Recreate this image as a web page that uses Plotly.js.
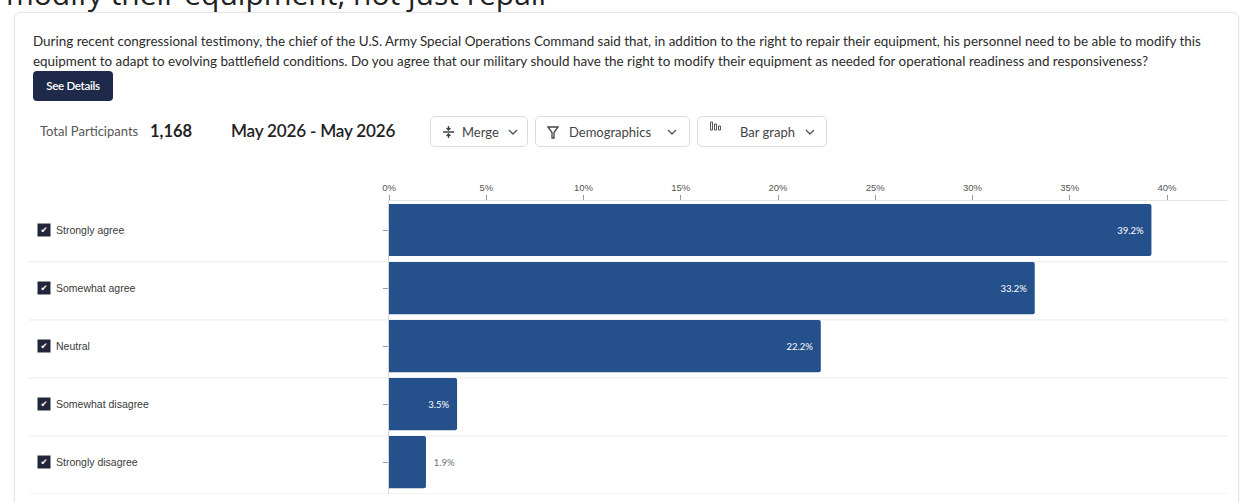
<!DOCTYPE html>
<html>
<head>
<meta charset="utf-8">
<script src="https://cdn.plot.ly/plotly-3.0.1.min.js"></script>
<style>
  html, body { margin:0; padding:0; width:1240px; height:502px; overflow:hidden; background:#fff; font-family: Lato, "Open Sans", sans-serif; }
  .abs { position:absolute; }
  #bigtitle { left:6px; top:-21px; font-size:30px; line-height:30px; color:#222; font-family:"Open Sans", Lato, sans-serif; white-space:nowrap; }
  #card { left:14px; top:12px; width:1223px; height:520px; border:1px solid #e6e6e6; border-radius:7px; box-shadow:0 0 3px rgba(0,0,0,0.06); }
  #question { left:33px; top:31px; font-size:13.45px; line-height:20px; color:#2b2b2b; white-space:nowrap; }
  #details { left:33px; top:71px; width:80px; height:30px; background:#1f2a4a; border-radius:4px; color:#fff; font-size:11.5px; font-weight:600; text-align:center; line-height:30px; letter-spacing:-0.3px; }
  #tp { left:40px; top:123px; font-size:13px; color:#555; }
  #tpn { left:150px; top:121px; font-size:16.5px; font-weight:700; color:#222; }
  #dates { left:231px; top:120px; font-size:17.1px; font-weight:600; color:#222; letter-spacing:-0.2px; }
  .btn { top:116px; height:31px; border:1px solid #dcdcdc; border-radius:5px; box-sizing:border-box; font-size:13px; color:#444; }
  .btn span { position:absolute; top:7px; }
  .btn svg { position:absolute; }
  #chart { left:0; top:0; width:1240px; height:502px; }
</style>
</head>
<body>
<div id="chart" class="abs"></div>
<div id="card" class="abs" style="pointer-events:none"></div>
<div id="bigtitle" class="abs">modify their equipment, not just repair</div>
<div id="question" class="abs">During recent congressional testimony, the chief of the U.S. Army Special Operations Command said that, in addition to the right to repair their equipment, his personnel need to be able to modify this<br>equipment to adapt to evolving battlefield conditions. Do you agree that our military should have the right to modify their equipment as needed for operational readiness and responsiveness?</div>
<div id="details" class="abs">See Details</div>
<div id="tp" class="abs">Total Participants</div>
<div id="tpn" class="abs">1,168</div>
<div id="dates" class="abs">May 2026 - May 2026</div>

<div class="abs btn" style="left:430px; width:98px;">
  <svg style="left:11px; top:8px" width="13" height="14" viewBox="0 0 13 14"><path d="M6.5 1 V5 M6.5 9 V13 M1 7 H12 M4.5 3 L6.5 5 L8.5 3 M4.5 11 L6.5 9 L8.5 11" stroke="#444" stroke-width="1.3" fill="none"/></svg>
  <span style="left:31px">Merge</span>
  <svg style="left:77px; top:12px" width="10" height="7" viewBox="0 0 10 7"><path d="M1 1 L5 5 L9 1" stroke="#555" stroke-width="1.3" fill="none"/></svg>
</div>
<div class="abs btn" style="left:535px; width:155px;">
  <svg style="left:11px; top:9px" width="12" height="13" viewBox="0 0 12 13"><path d="M1 1 H11 L7 6.5 V12 H5 V6.5 Z" stroke="#444" stroke-width="1.3" fill="none"/></svg>
  <span style="left:33px">Demographics</span>
  <svg style="left:131px; top:12px" width="10" height="7" viewBox="0 0 10 7"><path d="M1 1 L5 5 L9 1" stroke="#555" stroke-width="1.3" fill="none"/></svg>
</div>
<div class="abs btn" style="left:697px; width:130px;">
  <svg style="left:11px; top:4px" width="13" height="10" viewBox="0 0 13 10"><path d="M1.5 1 V9 H3.5 V1 Z M5.5 3 V9 H7.5 V3 Z M9.5 5 V9 H11.5 V5 Z" stroke="#444" stroke-width="0.9" fill="none"/></svg>
  <span style="left:42px">Bar graph</span>
  <svg style="left:107px; top:12px" width="10" height="7" viewBox="0 0 10 7"><path d="M1 1 L5 5 L9 1" stroke="#555" stroke-width="1.3" fill="none"/></svg>
</div>

<script>
// ---- data ----
const categories = ["Strongly agree", "Somewhat agree", "Neutral", "Somewhat disagree", "Strongly disagree"];
const percentages = [39.2, 33.2, 22.2, 3.5, 1.9];
const valueLabels = ["39.2%", "33.2%", "22.2%", "3.5%", "1.9%"];
const tickValues = [0, 5, 10, 15, 20, 25, 30, 35, 40];
const tickLabels = ["0%", "5%", "10%", "15%", "20%", "25%", "30%", "35%", "40%"];

// ---- layout geometry (pixels) ----
const W = 1240, H = 502;
const M = { l: 389, r: 12, t: 201, b: 8 };
const plotW = W - M.l - M.r;
const pxToPaper = px => (px - M.l) / plotW;
const xMax = 40 * plotW / (1167 - M.l);

const n = categories.length;
const sepOffset = 0.05;
const textPos = percentages.map(v => v < 3 ? "outside" : "inside");
const NB = "\u00a0";
const padded = valueLabels.map((t, i) => textPos[i] === "inside" ? t + NB + NB : NB + NB + t);

const trace = {
  type: "bar",
  orientation: "h",
  y: categories,
  x: percentages,
  text: padded,
  textposition: textPos,
  insidetextanchor: "end",
  textangle: 0,
  cliponaxis: false,
  insidetextfont: { family: "Lato, sans-serif", size: 9.5, color: "#ffffff" },
  outsidetextfont: { family: "Lato, sans-serif", size: 9.5, color: "#6b7280" },
  marker: { color: "#24518c", cornerradius: 2, line: { width: 0 } },
  hoverinfo: "none"
};

const shapes = [];
for (let i = 1; i <= n; i++) {
  shapes.push({
    type: "line", xref: "paper", yref: "y",
    x0: pxToPaper(29), x1: 1, y0: i - 0.5 + sepOffset, y1: i - 0.5 + sepOffset,
    line: { color: "#e9e9e9", width: 1 }, layer: "below"
  });
}

const annotations = [];
categories.forEach((c, i) => {
  annotations.push({
    xref: "paper", yref: "y", x: pxToPaper(44), y: c,
    text: "✔", showarrow: false, xanchor: "center", yanchor: "middle",
    font: { family: "DejaVu Sans", size: 8.5, color: "#ffffff" },
    bgcolor: "#22263a", width: 11, height: 11, borderpad: 0.5
  });
  annotations.push({
    xref: "paper", yref: "y", x: pxToPaper(54), y: c,
    text: c, showarrow: false, xanchor: "left", yanchor: "middle",
    font: { family: "Liberation Sans, Arial, sans-serif", size: 10.5, color: "#3a3a3a" }
  });
});

const layout = {
  width: W, height: H,
  margin: M,
  paper_bgcolor: "rgba(0,0,0,0)",
  plot_bgcolor: "rgba(0,0,0,0)",
  showlegend: false,
  bargap: 0.1,
  xaxis: {
    side: "top", range: [0, xMax], autorange: false, fixedrange: true,
    tickvals: tickValues, ticktext: tickLabels,
    ticks: "outside", ticklen: 5, tickcolor: "#9a9a9a", tickwidth: 1,
    tickfont: { family: "Liberation Sans, Arial, sans-serif", size: 9.5, color: "#555" },
    showgrid: false, zeroline: false,
    showline: true, linecolor: "#e6e6e6", linewidth: 1
  },
  yaxis: {
    type: "category", autorange: false, range: [n - 0.5 + sepOffset, -0.5],
    showticklabels: false, ticks: "outside", ticklen: 5, tickcolor: "#9a9a9a",
    showgrid: false, zeroline: false,
    showline: true, linecolor: "#d5d5d5", linewidth: 1
  },
  shapes: shapes,
  annotations: annotations
};

Plotly.newPlot("chart", [trace], layout, { staticPlot: true, displayModeBar: false });
</script>
</body>
</html>
